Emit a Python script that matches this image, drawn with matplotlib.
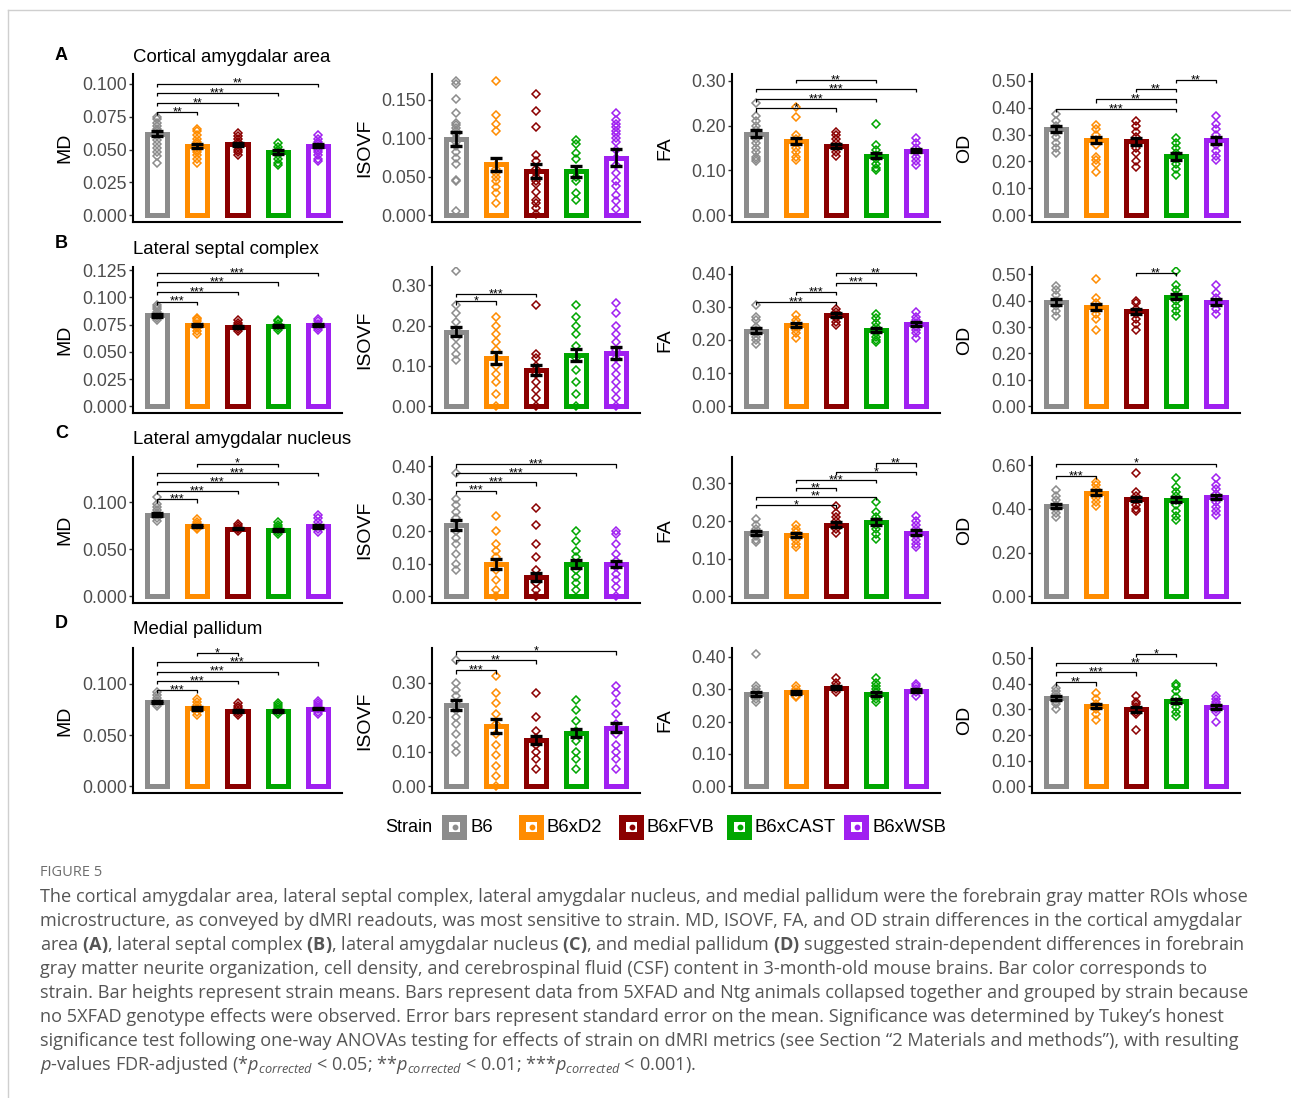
import matplotlib
matplotlib.use("Agg")
import matplotlib.pyplot as plt
from matplotlib.patches import Rectangle
from matplotlib.lines import Line2D
from matplotlib.ticker import FixedLocator, FormatStrFormatter

plt.rcParams['font.family'] = ['Liberation Sans', 'DejaVu Sans']
plt.rcParams['mathtext.fontset'] = 'custom'
plt.rcParams['mathtext.rm'] = 'Open Sans'
plt.rcParams['mathtext.it'] = 'Open Sans:italic'
plt.rcParams['mathtext.bf'] = 'Open Sans:bold'

strains = ['B6', 'B6xD2', 'B6xFVB', 'B6xCAST', 'B6xWSB']
strain_colors = ['#8c8c8c', '#ff8c00', '#8b0000', '#00a600', '#a020f0']
regions = ['Cortical amygdalar area', 'Lateral septal complex',
           'Lateral amygdalar nucleus', 'Medial pallidum']
panel_letters = ['A', 'B', 'C', 'D']
metrics = ['MD', 'ISOVF', 'FA', 'OD']

# ---- A: cortical amygdalar area ----
a_md_mean = [0.062, 0.053, 0.054, 0.048, 0.053]
a_md_se = [0.002, 0.0015, 0.0013, 0.0015, 0.0013]
a_md_pts = [
    [0.040, 0.045, 0.048, 0.051, 0.054, 0.057, 0.060, 0.062, 0.064, 0.066, 0.068, 0.070, 0.073, 0.075],
    [0.040, 0.043, 0.046, 0.048, 0.050, 0.052, 0.054, 0.056, 0.058, 0.061, 0.064, 0.066],
    [0.046, 0.048, 0.050, 0.052, 0.054, 0.056, 0.058, 0.060, 0.063],
    [0.038, 0.040, 0.043, 0.046, 0.048, 0.050, 0.052, 0.055],
    [0.041, 0.043, 0.046, 0.048, 0.050, 0.052, 0.054, 0.056, 0.058, 0.061],
]
a_md_sig = [(1, 2, 0.0786, '**'), (1, 3, 0.0856, '**'), (1, 4, 0.0932, '***'), (1, 5, 0.1003, '**')]

a_isovf_mean = [0.099, 0.066, 0.058, 0.057, 0.075]
a_isovf_se = [0.009, 0.0085, 0.009, 0.0075, 0.011]
a_isovf_pts = [
    [0.006, 0.044, 0.046, 0.067, 0.074, 0.082, 0.090, 0.095, 0.100, 0.105, 0.110, 0.113, 0.117, 0.120, 0.133, 0.151, 0.171, 0.174],
    [0.016, 0.029, 0.037, 0.045, 0.050, 0.055, 0.060, 0.065, 0.109, 0.119, 0.130, 0.174],
    [0.002, 0.010, 0.016, 0.020, 0.030, 0.040, 0.045, 0.050, 0.055, 0.060, 0.070, 0.078, 0.115, 0.136, 0.157],
    [0.020, 0.029, 0.045, 0.050, 0.056, 0.073, 0.081, 0.092, 0.098],
    [0.008, 0.018, 0.026, 0.038, 0.044, 0.055, 0.065, 0.075, 0.085, 0.095, 0.100, 0.105, 0.110, 0.115, 0.118, 0.124, 0.133],
]
a_isovf_sig = []

a_fa_mean = [0.182, 0.165, 0.154, 0.133, 0.144]
a_fa_se = [0.008, 0.007, 0.004, 0.006, 0.004]
a_fa_pts = [
    [0.120, 0.125, 0.130, 0.140, 0.150, 0.160, 0.170, 0.180, 0.190, 0.200, 0.210, 0.221, 0.250],
    [0.124, 0.130, 0.140, 0.150, 0.160, 0.170, 0.180, 0.220, 0.241],
    [0.133, 0.140, 0.150, 0.160, 0.170, 0.178, 0.185],
    [0.101, 0.105, 0.115, 0.125, 0.135, 0.145, 0.157, 0.203],
    [0.112, 0.120, 0.130, 0.140, 0.150, 0.160, 0.172],
]
a_fa_sig = [(1, 3, 0.2385, '*'), (1, 4, 0.259, '***'), (1, 5, 0.281, '***'), (2, 4, 0.302, '**')]

a_od_mean = [0.320, 0.280, 0.275, 0.220, 0.279]
a_od_se = [0.010, 0.012, 0.013, 0.013, 0.013]
a_od_pts = [
    [0.231, 0.250, 0.270, 0.290, 0.310, 0.330, 0.350, 0.375],
    [0.162, 0.190, 0.205, 0.215, 0.260, 0.280, 0.300, 0.320, 0.337],
    [0.181, 0.200, 0.230, 0.250, 0.270, 0.290, 0.310, 0.330, 0.350],
    [0.150, 0.170, 0.190, 0.210, 0.230, 0.250, 0.270, 0.287],
    [0.206, 0.220, 0.240, 0.260, 0.280, 0.300, 0.320, 0.340, 0.369],
]
a_od_sig = [(1, 4, 0.396, '***'), (2, 4, 0.431, '**'), (3, 4, 0.469, '**'), (4, 5, 0.504, '**')]

# ---- B: lateral septal complex ----
b_md_mean = [0.0836, 0.0750, 0.0731, 0.0738, 0.0747]
b_md_se = [0.0012, 0.0008, 0.0007, 0.0007, 0.0008]
b_md_pts = [
    [0.079, 0.081, 0.083, 0.085, 0.087, 0.089, 0.091, 0.093],
    [0.066, 0.069, 0.072, 0.074, 0.076, 0.078, 0.080, 0.081],
    [0.069, 0.071, 0.073, 0.075, 0.077, 0.079],
    [0.070, 0.072, 0.074, 0.076, 0.078, 0.079],
    [0.070, 0.072, 0.074, 0.076, 0.078, 0.080],
]
b_md_sig = [(1, 2, 0.0963, '***'), (1, 3, 0.105, '***'), (1, 4, 0.1139, '***'), (1, 5, 0.1225, '***')]

b_isovf_mean = [0.185, 0.120, 0.090, 0.128, 0.132]
b_isovf_se = [0.012, 0.015, 0.012, 0.015, 0.015]
b_isovf_pts = [
    [0.115, 0.130, 0.150, 0.170, 0.190, 0.210, 0.230, 0.250, 0.335],
    [0.000, 0.030, 0.060, 0.080, 0.100, 0.120, 0.140, 0.160, 0.180, 0.200, 0.220],
    [0.000, 0.020, 0.040, 0.060, 0.080, 0.100, 0.120, 0.130, 0.250],
    [0.000, 0.030, 0.060, 0.090, 0.120, 0.150, 0.180, 0.200, 0.220, 0.250],
    [0.000, 0.020, 0.040, 0.060, 0.080, 0.100, 0.120, 0.140, 0.160, 0.180, 0.200, 0.230, 0.255],
]
b_isovf_sig = [(1, 2, 0.26, '*'), (1, 3, 0.278, '***')]

b_fa_mean = [0.228, 0.245, 0.275, 0.231, 0.248]
b_fa_se = [0.007, 0.006, 0.006, 0.006, 0.006]
b_fa_pts = [
    [0.187, 0.200, 0.210, 0.220, 0.230, 0.240, 0.260, 0.270, 0.305],
    [0.207, 0.220, 0.230, 0.240, 0.250, 0.260, 0.275],
    [0.245, 0.255, 0.265, 0.275, 0.285, 0.293],
    [0.193, 0.200, 0.210, 0.220, 0.230, 0.240, 0.250, 0.265, 0.277],
    [0.207, 0.220, 0.230, 0.240, 0.250, 0.260, 0.270, 0.285],
]
b_fa_sig = [(1, 3, 0.315, '***'), (2, 3, 0.345, '***'), (3, 4, 0.373, '***'), (3, 5, 0.403, '**')]

b_od_mean = [0.395, 0.375, 0.360, 0.415, 0.395]
b_od_se = [0.010, 0.012, 0.010, 0.010, 0.010]
b_od_pts = [
    [0.340, 0.360, 0.380, 0.400, 0.420, 0.440, 0.455],
    [0.290, 0.330, 0.350, 0.370, 0.390, 0.410, 0.480],
    [0.290, 0.310, 0.330, 0.350, 0.370, 0.390, 0.400],
    [0.340, 0.360, 0.380, 0.400, 0.420, 0.440, 0.460, 0.510],
    [0.350, 0.370, 0.390, 0.410, 0.430, 0.460],
]
b_od_sig = [(3, 4, 0.504, '**')]

# ---- C: lateral amygdalar nucleus ----
c_md_mean = [0.0868, 0.0746, 0.0720, 0.0704, 0.0746]
c_md_se = [0.0020, 0.0010, 0.0010, 0.0010, 0.0015]
c_md_pts = [
    [0.080, 0.083, 0.086, 0.089, 0.092, 0.095, 0.098, 0.105],
    [0.071, 0.073, 0.075, 0.077, 0.079, 0.082],
    [0.069, 0.071, 0.073, 0.075, 0.077],
    [0.066, 0.068, 0.070, 0.072, 0.074, 0.076, 0.079],
    [0.068, 0.071, 0.075, 0.079, 0.083, 0.086],
]
c_md_sig = [(1, 2, 0.1029, '***'), (1, 3, 0.112, '***'), (1, 4, 0.1218, '***'),
            (1, 5, 0.1314, '***'), (2, 4, 0.141, '*')]

c_isovf_mean = [0.220, 0.100, 0.060, 0.100, 0.100]
c_isovf_se = [0.015, 0.015, 0.013, 0.012, 0.010]
c_isovf_pts = [
    [0.080, 0.100, 0.130, 0.160, 0.180, 0.200, 0.220, 0.240, 0.260, 0.280, 0.300, 0.380],
    [0.000, 0.020, 0.050, 0.080, 0.100, 0.120, 0.140, 0.160, 0.200, 0.246],
    [0.000, 0.020, 0.040, 0.060, 0.080, 0.120, 0.160, 0.220, 0.270],
    [0.020, 0.040, 0.060, 0.080, 0.100, 0.120, 0.140, 0.170, 0.200],
    [0.000, 0.030, 0.050, 0.070, 0.090, 0.110, 0.130, 0.160, 0.190, 0.200],
]
c_isovf_sig = [(1, 2, 0.325, '***'), (1, 3, 0.35, '***'), (1, 4, 0.38, '***'), (1, 5, 0.405, '***')]

c_fa_mean = [0.169, 0.163, 0.190, 0.197, 0.169]
c_fa_se = [0.005, 0.005, 0.007, 0.008, 0.006]
c_fa_pts = [
    [0.145, 0.150, 0.160, 0.170, 0.180, 0.190, 0.206],
    [0.130, 0.140, 0.150, 0.160, 0.170, 0.180, 0.190],
    [0.169, 0.180, 0.190, 0.200, 0.210, 0.220, 0.239],
    [0.153, 0.165, 0.180, 0.190, 0.200, 0.210, 0.225, 0.250],
    [0.131, 0.140, 0.150, 0.160, 0.170, 0.180, 0.190, 0.200, 0.214],
]
c_fa_sig = [(1, 3, 0.243, '*'), (1, 4, 0.265, '**'), (2, 3, 0.287, '**'),
            (2, 4, 0.309, '***'), (3, 5, 0.331, '*'), (4, 5, 0.353, '**')]

c_od_mean = [0.415, 0.475, 0.445, 0.443, 0.454]
c_od_se = [0.010, 0.010, 0.010, 0.013, 0.010]
c_od_pts = [
    [0.362, 0.380, 0.400, 0.420, 0.440, 0.460, 0.487],
    [0.412, 0.430, 0.450, 0.470, 0.490, 0.510, 0.525],
    [0.389, 0.400, 0.420, 0.440, 0.460, 0.480, 0.566],
    [0.351, 0.370, 0.390, 0.420, 0.440, 0.460, 0.480, 0.500, 0.543],
    [0.374, 0.390, 0.410, 0.430, 0.450, 0.470, 0.490, 0.510, 0.543],
]
c_od_sig = [(1, 2, 0.552, '***'), (1, 5, 0.608, '*')]

# ---- D: medial pallidum ----
d_md_mean = [0.0825, 0.0760, 0.0736, 0.0736, 0.0759]
d_md_se = [0.0010, 0.0012, 0.0010, 0.0008, 0.0008]
d_md_pts = [
    [0.078, 0.080, 0.083, 0.086, 0.089, 0.092],
    [0.070, 0.073, 0.076, 0.079, 0.082, 0.085],
    [0.070, 0.072, 0.074, 0.076, 0.078, 0.081],
    [0.071, 0.073, 0.075, 0.077, 0.079, 0.081],
    [0.071, 0.073, 0.075, 0.077, 0.079, 0.081, 0.083],
]
d_md_sig = [(1, 2, 0.094, '***'), (1, 3, 0.103, '***'), (1, 4, 0.112, '***'),
            (1, 5, 0.121, '***'), (2, 3, 0.130, '*')]

d_isovf_mean = [0.235, 0.175, 0.135, 0.155, 0.170]
d_isovf_se = [0.015, 0.020, 0.012, 0.012, 0.013]
d_isovf_pts = [
    [0.100, 0.120, 0.150, 0.180, 0.200, 0.220, 0.240, 0.260, 0.280, 0.300, 0.364],
    [0.000, 0.030, 0.060, 0.090, 0.120, 0.150, 0.180, 0.210, 0.240, 0.270, 0.320],
    [0.050, 0.080, 0.100, 0.120, 0.140, 0.160, 0.200, 0.270],
    [0.050, 0.080, 0.100, 0.130, 0.160, 0.190, 0.220, 0.250],
    [0.050, 0.080, 0.100, 0.120, 0.150, 0.180, 0.210, 0.240, 0.270, 0.290],
]
d_isovf_sig = [(1, 2, 0.335, '***'), (1, 3, 0.364, '**'), (1, 5, 0.39, '*')]

d_fa_mean = [0.285, 0.290, 0.305, 0.285, 0.295]
d_fa_se = [0.007, 0.004, 0.005, 0.006, 0.004]
d_fa_pts = [
    [0.260, 0.270, 0.280, 0.290, 0.300, 0.310, 0.409],
    [0.275, 0.280, 0.290, 0.300, 0.310],
    [0.290, 0.300, 0.310, 0.320, 0.335],
    [0.260, 0.270, 0.280, 0.290, 0.300, 0.310, 0.320, 0.335],
    [0.280, 0.290, 0.300, 0.310, 0.315],
]
d_fa_sig = []

d_od_mean = [0.344, 0.313, 0.301, 0.332, 0.309]
d_od_se = [0.008, 0.008, 0.010, 0.009, 0.007]
d_od_pts = [
    [0.300, 0.320, 0.330, 0.340, 0.350, 0.360, 0.370, 0.383],
    [0.260, 0.280, 0.300, 0.320, 0.340, 0.364],
    [0.220, 0.280, 0.290, 0.300, 0.310, 0.320, 0.330, 0.353],
    [0.273, 0.290, 0.310, 0.330, 0.350, 0.370, 0.390, 0.399],
    [0.249, 0.290, 0.300, 0.310, 0.320, 0.330, 0.340, 0.351],
]
d_od_sig = [(1, 2, 0.405, '**'), (1, 3, 0.444, '***'), (1, 5, 0.48, '**'), (3, 4, 0.517, '*')]

panels = [
    [(a_md_mean, a_md_se, a_md_pts, a_md_sig), (a_isovf_mean, a_isovf_se, a_isovf_pts, a_isovf_sig),
     (a_fa_mean, a_fa_se, a_fa_pts, a_fa_sig), (a_od_mean, a_od_se, a_od_pts, a_od_sig)],
    [(b_md_mean, b_md_se, b_md_pts, b_md_sig), (b_isovf_mean, b_isovf_se, b_isovf_pts, b_isovf_sig),
     (b_fa_mean, b_fa_se, b_fa_pts, b_fa_sig), (b_od_mean, b_od_se, b_od_pts, b_od_sig)],
    [(c_md_mean, c_md_se, c_md_pts, c_md_sig), (c_isovf_mean, c_isovf_se, c_isovf_pts, c_isovf_sig),
     (c_fa_mean, c_fa_se, c_fa_pts, c_fa_sig), (c_od_mean, c_od_se, c_od_pts, c_od_sig)],
    [(d_md_mean, d_md_se, d_md_pts, d_md_sig), (d_isovf_mean, d_isovf_se, d_isovf_pts, d_isovf_sig),
     (d_fa_mean, d_fa_se, d_fa_pts, d_fa_sig), (d_od_mean, d_od_se, d_od_pts, d_od_sig)],
]

# y scale per panel: (upper limit, ticks, decimals)
y_scales = [
    [(0.1076, [0, 0.025, 0.05, 0.075, 0.1], 3), (0.1835, [0, 0.05, 0.1, 0.15], 3),
     (0.315, [0, 0.1, 0.2, 0.3], 2), (0.525, [0, 0.1, 0.2, 0.3, 0.4, 0.5], 2)],
    [(0.128, [0, 0.025, 0.05, 0.075, 0.1, 0.125], 3), (0.345, [0, 0.1, 0.2, 0.3], 2),
     (0.42, [0, 0.1, 0.2, 0.3, 0.4], 2), (0.527, [0, 0.1, 0.2, 0.3, 0.4, 0.5], 2)],
    [(0.148, [0, 0.05, 0.1], 3), (0.428, [0, 0.1, 0.2, 0.3, 0.4], 2),
     (0.37, [0, 0.1, 0.2, 0.3], 2), (0.638, [0, 0.2, 0.4, 0.6], 2)],
    [(0.135, [0, 0.05, 0.1], 3), (0.40, [0, 0.1, 0.2, 0.3], 2),
     (0.427, [0, 0.1, 0.2, 0.3, 0.4], 2), (0.539, [0, 0.1, 0.2, 0.3, 0.4, 0.5], 2)],
]

caption_lines = [
    "The cortical amygdalar area, lateral septal complex, lateral amygdalar nucleus, and medial pallidum were the forebrain gray matter ROIs whose",
    "microstructure, as conveyed by dMRI readouts, was most sensitive to strain. MD, ISOVF, FA, and OD strain differences in the cortical amygdalar",
    r"area $\mathbf{(A)}$, lateral septal complex $\mathbf{(B)}$, lateral amygdalar nucleus $\mathbf{(C)}$, and medial pallidum $\mathbf{(D)}$ suggested strain-dependent differences in forebrain",
    "gray matter neurite organization, cell density, and cerebrospinal fluid (CSF) content in 3-month-old mouse brains. Bar color corresponds to",
    "strain. Bar heights represent strain means. Bars represent data from 5XFAD and Ntg animals collapsed together and grouped by strain because",
    "no 5XFAD genotype effects were observed. Error bars represent standard error on the mean. Significance was determined by Tukey\u2019s honest",
    "significance test following one-way ANOVAs testing for effects of strain on dMRI metrics (see Section \u201c2 Materials and methods\u201d), with resulting",
    r"$p$-values FDR-adjusted (*$p_{corrected}$ < 0.05; **$p_{corrected}$ < 0.01; ***$p_{corrected}$ < 0.001).",
]

W, H = 1291, 1098
fig = plt.figure(figsize=(W / 100, H / 100), dpi=100)
fig.patch.set_facecolor('white')

col_x0 = [133, 432, 732, 1032]
col_x1 = [342, 640, 940, 1240]
row_y0 = [74, 267, 457, 648]
row_y1 = [222, 413, 603, 793]
ylabel_x = [65, 365, 665, 965]

ov = fig.add_axes([0, 0, 1, 1], zorder=-1)
ov.set_xlim(0, W)
ov.set_ylim(H, 0)
ov.axis('off')

xs = list(range(1, len(strains) + 1))
for r in range(4):
    for c in range(4):
        mean, se, pts, sig = panels[r][c]
        top, ticks, dec = y_scales[r][c]
        bottom = -0.048 * top
        x0, x1, y0, y1 = col_x0[c], col_x1[c], row_y0[r], row_y1[r]
        ax = fig.add_axes([x0 / W, 1 - y1 / H, (x1 - x0) / W, (y1 - y0) / H])
        ax.set_facecolor('none')
        ax.bar(xs, mean, width=0.5, color='white', edgecolor=strain_colors,
               linewidth=3.6, zorder=2)
        for i, p in enumerate(pts):
            ax.plot([xs[i]] * len(p), p, linestyle='none', marker='D', ms=4.2,
                    mfc='none', mec=strain_colors[i], mew=1.1, zorder=3)
        ax.errorbar(xs, mean, yerr=se, fmt='none', ecolor='black', elinewidth=2,
                    capsize=4.2, capthick=2.4, zorder=4)
        tip = 0.022 * (top - bottom)
        for i, j, y, lab in sig:
            ax.plot([i, i, j, j], [y - tip, y, y, y - tip], color='black', lw=0.9,
                    zorder=5, solid_capstyle='butt')
            ax.annotate(lab, ((i + j) / 2, y), xytext=(0, -2.4), textcoords='offset points',
                        ha='center', va='baseline', fontsize=9, zorder=6)
        ax.set_xlim(0.4, 5.6)
        ax.set_ylim(bottom, top)
        ax.set_xticks([])
        ax.yaxis.set_major_locator(FixedLocator(ticks))
        ax.yaxis.set_major_formatter(FormatStrFormatter('%%.%df' % dec))
        ax.tick_params(axis='y', length=3, width=1, color='#333333',
                       labelcolor='#4d4d4d', labelsize=12.7, pad=1.5)
        for s in ['top', 'right']:
            ax.spines[s].set_visible(False)
        for s in ['left', 'bottom']:
            ax.spines[s].set_linewidth(1.5)
            ax.spines[s].set_color('black')
        ov.text(ylabel_x[c], (y0 + y1) / 2, metrics[c], rotation=90, ha='center',
                va='center', fontsize=14, color='black')
    ov.text(55, [55, 243, 433, 623][r], panel_letters[r], fontsize=13, fontweight='bold',
            ha='left', va='center')
    ov.text(133, [58, 249, 440, 630][r], regions[r], fontsize=13.4, ha='left', va='center')

# legend row
ov.text(385, 827, 'Strain', fontsize=13, ha='left', va='center')
key_left = [442, 519, 619, 727, 844]
for k, name in enumerate(strains):
    kx = key_left[k]
    ov.add_patch(Rectangle((kx, 814.5), 25, 25, facecolor=strain_colors[k], edgecolor='none'))
    ov.add_patch(Rectangle((kx + 7.25, 821.75), 10.5, 10.5, facecolor='white', edgecolor='none'))
    ov.plot([kx + 12.5], [827], marker='o', ms=3.2, color=strain_colors[k], linestyle='none')
    ov.text(kx + 28, 827, name, fontsize=13.3, ha='left', va='center')

# frame lines
ov.add_line(Line2D([8, W], [10, 10], color='#cfcfcf', lw=1))
ov.add_line(Line2D([8, 8], [10, H], color='#cfcfcf', lw=1))

ov.text(40, 872, 'FIGURE 5', fontsize=10.5, color='#6e6e6e', ha='left', va='center',
        family=['Open Sans', 'DejaVu Sans'])
for n, line in enumerate(caption_lines):
    ov.text(40, 897 + 24 * n, line, fontsize=13.1, color='#555555', ha='left', va='center',
            family=['Open Sans', 'DejaVu Sans'])

fig.savefig('out.png', dpi=100)
